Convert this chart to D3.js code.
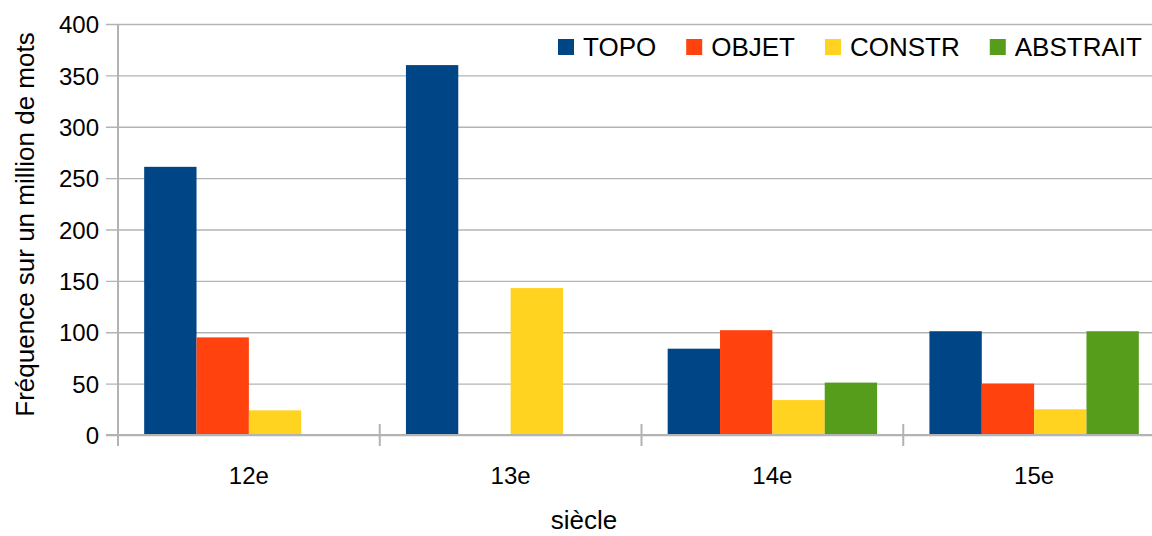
<!DOCTYPE html>
<html>
<head>
<meta charset="utf-8">
<script src="https://cdn.jsdelivr.net/npm/d3@7"></script>
<style>
  html, body { margin: 0; padding: 0; background: #fff; }
  svg text { font-family: "Liberation Sans", Arial, sans-serif; fill: #000; }
</style>
</head>
<body>
<svg id="chart" width="1152" height="536"></svg>
<script>
const categories = ['12e', '13e', '14e', '15e']
const seriesNames = ['TOPO', 'OBJET', 'CONSTR', 'ABSTRAIT']
const topo = [261, 360, 84, 101]
const objet = [95, 0, 102, 50]
const constr = [24, 143, 34, 25]
const abstrait = [0, 0, 51, 101]
const yTicks = [0, 50, 100, 150, 200, 250, 300, 350, 400]
const colors = ['#004586', '#ff420e', '#ffd320', '#579d1c']

const rows = categories.map((c, i) => ({
  cat: c,
  values: [topo[i], objet[i], constr[i], abstrait[i]],
}))

const plot = { left: 118, right: 1165, top: 24, bottom: 435 }
const tickFont = 24
const titleFont = 26
const grid = '#b3b3b3'

const svg = d3.select('#chart')

const x = d3.scaleBand()
  .domain(categories)
  .range([plot.left, plot.right])
  .padding(0)

const xs = d3.scaleBand()
  .domain(seriesNames)
  .range([0, x.bandwidth()])
  .paddingInner(0)
  .paddingOuter(0.5)

const y = d3.scaleLinear()
  .domain([0, 400])
  .range([plot.bottom, plot.top])

// grid + y ticks
const yAxis = d3.axisLeft(y)
  .tickValues(yTicks)
  .tickSize(-(plot.right - plot.left))
  .tickPadding(19)
  .tickFormat((d) => d)

const gy = svg.append('g')
  .attr('transform', `translate(${plot.left}, 0)`)
  .call(yAxis)
gy.select('.domain').remove()
gy.selectAll('.tick line')
  .attr('x1', -12)
  .attr('stroke', grid)
  .attr('stroke-width', 1.3)
gy.selectAll('.tick text')
  .style('font-size', tickFont + 'px')
  .attr('dy', '0.36em')

// bars
const groups = svg.append('g')
  .selectAll('g')
  .data(rows)
  .enter()
  .append('g')
  .attr('transform', (d) => `translate(${x(d.cat)}, 0)`)

groups.selectAll('rect')
  .data((d) => d.values.map((v, i) => ({ name: seriesNames[i], v, i })))
  .enter()
  .append('rect')
  .attr('x', (d) => xs(d.name))
  .attr('y', (d) => y(d.v))
  .attr('width', xs.bandwidth())
  .attr('height', (d) => y(0) - y(d.v))
  .style('fill', (d) => colors[d.i])

// x axis
const xAxis = d3.axisBottom(x).tickSize(0).tickPadding(32)
const gx = svg.append('g')
  .attr('transform', `translate(0, ${plot.bottom})`)
  .call(xAxis)
gx.select('.domain').remove()
gx.selectAll('.tick text').style('font-size', tickFont + 'px')

svg.append('line')
  .attr('x1', plot.left - 12).attr('x2', plot.right)
  .attr('y1', y(0)).attr('y2', y(0))
  .attr('stroke', grid).attr('stroke-width', 2)

// category separators
svg.append('g')
  .selectAll('line')
  .data(categories.slice(1))
  .enter()
  .append('line')
  .attr('x1', (d) => x(d)).attr('x2', (d) => x(d))
  .attr('y1', plot.bottom - 11).attr('y2', plot.bottom + 11)
  .attr('stroke', grid).attr('stroke-width', 2)

// y axis line
svg.append('line')
  .attr('x1', plot.left).attr('x2', plot.left)
  .attr('y1', plot.top).attr('y2', plot.bottom + 11)
  .attr('stroke', grid).attr('stroke-width', 2)

// axis titles
svg.append('text')
  .attr('text-anchor', 'middle')
  .attr('x', 584)
  .attr('y', 529)
  .style('font-size', titleFont + 'px')
  .text('siècle')

svg.append('text')
  .attr('text-anchor', 'middle')
  .attr('transform', `translate(34, ${(plot.top + plot.bottom) / 2 - 5}) rotate(-90)`)
  .style('font-size', titleFont + 'px')
  .text('Fréquence sur un million de mots')

// legend
const legend = svg.append('g').attr('transform', 'translate(558, 47)')
let lx = 0
seriesNames.forEach((name, i) => {
  const item = legend.append('g').attr('transform', `translate(${lx}, 0)`)
  item.append('rect')
    .attr('x', 0).attr('y', -8)
    .attr('width', 16).attr('height', 16)
    .style('fill', colors[i])
  const t = item.append('text')
    .attr('x', 25)
    .attr('dy', '0.36em')
    .style('font-size', titleFont + 'px')
    .text(name)
  lx += 25 + t.node().getComputedTextLength() + 30
})
</script>
</body>
</html>
